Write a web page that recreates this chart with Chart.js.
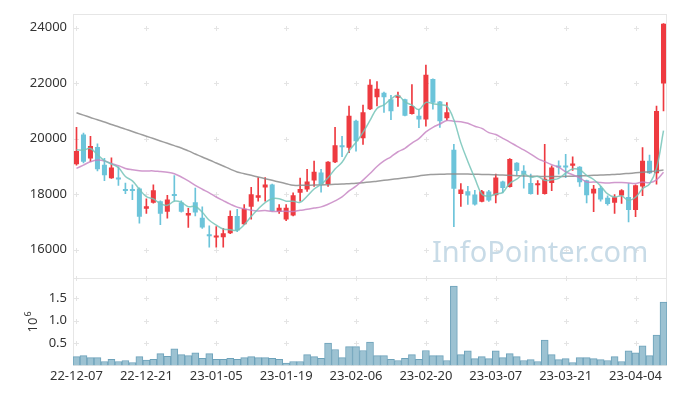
<!DOCTYPE html>
<html>
<head>
<meta charset="utf-8">
<title>Candle chart</title>
<script src="https://cdn.jsdelivr.net/npm/chart.js@4.4.1/dist/chart.umd.min.js"></script>
<style>
    html, body { margin: 0; padding: 0; background: #fff; }
    #wrap { width: 677px; height: 396px; }
</style>
</head>
<body>
<div id="wrap"><canvas id="stockChart" width="677" height="396"></canvas></div>
<script>
// ===================================
// Data
// ===================================
const dates = [
    '22-12-07', '22-12-08', '22-12-09', '22-12-12', '22-12-13', '22-12-14', '22-12-15', '22-12-16',
    '22-12-19', '22-12-20', '22-12-21', '22-12-22', '22-12-23', '22-12-26', '22-12-27', '22-12-28',
    '22-12-29', '23-01-02', '23-01-03', '23-01-04', '23-01-05', '23-01-06', '23-01-09', '23-01-10',
    '23-01-11', '23-01-12', '23-01-13', '23-01-16', '23-01-17', '23-01-18', '23-01-19', '23-01-20',
    '23-01-25', '23-01-26', '23-01-27', '23-01-30', '23-01-31', '23-02-01', '23-02-02', '23-02-03',
    '23-02-06', '23-02-07', '23-02-08', '23-02-09', '23-02-10', '23-02-13', '23-02-14', '23-02-15',
    '23-02-16', '23-02-17', '23-02-20', '23-02-21', '23-02-22', '23-02-23', '23-02-24', '23-02-27',
    '23-02-28', '23-03-02', '23-03-03', '23-03-06', '23-03-07', '23-03-08', '23-03-09', '23-03-10',
    '23-03-13', '23-03-14', '23-03-15', '23-03-16', '23-03-17', '23-03-20', '23-03-21', '23-03-22',
    '23-03-23', '23-03-24', '23-03-27', '23-03-28', '23-03-29', '23-03-30', '23-03-31', '23-04-03',
    '23-04-04', '23-04-05', '23-04-06', '23-04-07', '23-04-10'
];

const openPrices = [
    19080, 20150, 19290, 19700, 19060, 18580, 18560, 18150, 18150, 18210, 17480, 17690, 17750, 17370, 17960, 17700,
    17230, 17710, 17150, 16500, 16440, 16450, 16590, 17220, 16920, 17550, 17870, 18240, 18350, 17370, 17090, 17230,
    18050, 18170, 18490, 18780, 18370, 19150, 19710, 19670, 20650, 20020, 21060, 21490, 21660, 21420, 21480, 21420,
    20890, 20830, 20690, 22150, 21340, 20740, 19600, 18010, 18110, 17990, 17730, 18100, 17960, 18460, 18260, 19130,
    18850, 18400, 18320, 18010, 18400, 18980, 18980, 19030, 18990, 18500, 18030, 18220, 17870, 17690, 17950, 17900,
    17430, 18280, 19210, 18760, 21990
];
const highPrices = [
    20410, 20200, 20090, 19820, 19290, 19310, 18990, 18400, 18340, 18230, 17830, 18340, 17760, 17960, 18670, 17760,
    17490, 18220, 17550, 16860, 16830, 16770, 17400, 17460, 17630, 18250, 18600, 18600, 18370, 17630, 17630, 18050,
    18580, 18900, 19190, 18900, 19180, 20410, 20090, 21180, 20670, 21210, 22130, 22060, 21680, 21560, 21680, 21430,
    21950, 21060, 22650, 22160, 21350, 21300, 19800, 18380, 18280, 18140, 18140, 18140, 18730, 18470, 19280, 19140,
    19030, 18730, 18490, 19800, 19020, 19200, 19440, 19350, 19000, 18510, 18320, 18280, 17940, 17990, 18170, 18380,
    18340, 19680, 19410, 21180, 24150
];
const lowPrices = [
    19050, 19130, 19170, 18840, 18490, 18570, 18320, 18020, 17800, 16960, 17310, 17680, 16900, 17140, 17770, 17350,
    16800, 17220, 16770, 16090, 16090, 16090, 16580, 16650, 16900, 17100, 17750, 17750, 17390, 17310, 17050, 17220,
    17750, 18100, 18280, 18070, 18280, 19140, 19350, 19500, 19550, 19790, 21050, 21180, 20950, 20690, 21160, 20820,
    20880, 20400, 20450, 21060, 20410, 20670, 16830, 17560, 17630, 17610, 17720, 17740, 17690, 18050, 18250, 18700,
    18220, 18000, 17990, 18000, 18130, 18720, 18600, 18860, 18280, 17690, 17370, 17750, 17610, 17310, 17670, 17000,
    17190, 17950, 18740, 18360, 21000
];
const closePrices = [
    19560, 19170, 19740, 18900, 18680, 18960, 18530, 18120, 18120, 17190, 17570, 18140, 17300, 17810, 17940, 17370,
    17320, 17340, 16800, 16490, 16510, 16590, 17220, 16690, 17480, 18000, 17960, 18350, 17400, 17510, 17510, 17960,
    18190, 18460, 18810, 18340, 19170, 19760, 19690, 20830, 19910, 20950, 21940, 21800, 21490, 20990, 21560, 20830,
    21180, 20690, 22300, 21300, 20630, 20950, 18200, 18170, 17950, 17630, 18110, 17770, 18600, 18220, 19270, 18840,
    18730, 18010, 18340, 18560, 18960, 18960, 18960, 19110, 18430, 17960, 18200, 17810, 17650, 17890, 18140, 17430,
    18320, 19210, 18760, 21000, 24140
];

const volumes = [
    196000, 217000, 174000, 174000, 87000, 138000, 87000, 109000, 65000, 196000, 116000, 138000, 261000, 203000, 370000, 239000,
    217000, 283000, 159000, 261000, 138000, 138000, 159000, 138000, 174000, 196000, 174000, 174000, 159000, 138000, 51000, 87000,
    87000, 239000, 196000, 159000, 500000, 355000, 174000, 420000, 420000, 333000, 522000, 217000, 217000, 138000, 109000, 159000,
    239000, 138000, 333000, 217000, 217000, 109000, 1768000, 239000, 326000, 152000, 196000, 152000, 326000, 174000, 261000, 196000,
    109000, 130000, 87000, 565000, 239000, 130000, 152000, 65000, 174000, 174000, 152000, 130000, 109000, 196000, 87000, 326000,
    283000, 435000, 217000, 674000, 1413000
];

// moving averages as drawn in the reference
const ma5 = [
    19600, 19590, 19650, 19420, 19210, 19090, 18960, 18640, 18480, 18180, 17910, 17830, 17660, 17600, 17750, 17710,
    17550, 17560, 17350, 17060, 16890, 16750, 16720, 16700, 16900, 17200, 17470, 17700, 17840, 17840, 17750, 17750,
    17710, 17930, 18190, 18350, 18590, 18910, 19150, 19560, 19870, 20230, 20660, 21090, 21220, 21430, 21560, 21330,
    21210, 21050, 21310, 21260, 21220, 21170, 20680, 19850, 19180, 18580, 18010, 17930, 18010, 18070, 18390, 18540,
    18730, 18610, 18640, 18500, 18520, 18570, 18760, 18910, 18880, 18680, 18530, 18300, 18010, 17900, 17940, 17780,
    17890, 18200, 18370, 18940, 20290
];
const ma20 = [
    18930, 19050, 19170, 19230, 19200, 19110, 19030, 18930, 18880, 18850, 18840, 18840, 18815, 18790, 18740, 18620,
    18480, 18320, 18180, 18050, 17900, 17770, 17645, 17535, 17475, 17425, 17400, 17410, 17375, 17390, 17385, 17380,
    17420, 17455, 17500, 17545, 17640, 17760, 17905, 18120, 18290, 18510, 18745, 19000, 19200, 19350, 19530, 19655,
    19845, 20005, 20245, 20410, 20530, 20655, 20625, 20615, 20555, 20450, 20370, 20220, 20150, 20015, 19880, 19735,
    19595, 19445, 19285, 19175, 19060, 18975, 18810, 18700, 18590, 18440, 18440, 18420, 18405, 18420, 18420, 18405,
    18390, 18440, 18415, 18520, 18790
];
const ma60 = [
    20935, 20850, 20765, 20680, 20600, 20510, 20430, 20345, 20260, 20175, 20090, 20005, 19920, 19835, 19750, 19665,
    19560, 19450, 19340, 19235, 19125, 19015, 18905, 18800, 18740, 18680, 18620, 18560, 18500, 18440, 18380, 18320,
    18320, 18325, 18330, 18335, 18345, 18355, 18365, 18380, 18395, 18415, 18440, 18470, 18500, 18530, 18560, 18590,
    18620, 18660, 18695, 18710, 18720, 18725, 18730, 18730, 18725, 18720, 18715, 18710, 18700, 18690, 18680, 18670,
    18660, 18650, 18645, 18640, 18640, 18640, 18645, 18650, 18660, 18670, 18680, 18690, 18700, 18715, 18730, 18750,
    18770, 18790, 18810, 18840, 18870
];

const priceTicks = [16000, 18000, 20000, 22000, 24000];
const volumeTicks = [500000, 1000000, 1500000];
const labelEvery = 10;

// ===================================
// Styles
// ===================================
const FONT = '"Noto Sans", "Open Sans", sans-serif';
const UP_COLOR = '#ee3a40';
const DOWN_COLOR = '#6cc4da';
const candleColors = closePrices.map((c, i) => c >= openPrices[i] ? UP_COLOR : DOWN_COLOR);

// Grid crosses, panel borders, watermark and the 10^6 label
const panelDecor = {
    id: 'panelDecor',
    beforeDatasetsDraw(chart) {
        const { ctx, chartArea, scales } = chart;
        const x = scales.x, y = scales.y, yv = scales.yv;
        const left = Math.round(chartArea.left) + 0.5;
        const right = Math.round(chartArea.right) - 0.5;

        ctx.save();
        ctx.strokeStyle = '#e6e6e6';
        ctx.lineWidth = 1;
        [y, yv].forEach(s => {
            const top = Math.round(s.top) + 0.5;
            const bottom = Math.round(s.bottom) + 0.5;
            ctx.strokeRect(left, top, right - left, bottom - top);
        });

        // little "+" marks where ticks meet
        ctx.strokeStyle = '#e4e4e4';
        const rows = priceTicks.map(v => y.getPixelForValue(v))
            .concat(volumeTicks.map(v => yv.getPixelForValue(v)))
            .concat([y.bottom]);
        dates.forEach((d, i) => {
            if (i % labelEvery !== 0) return;
            const px = Math.round(x.getPixelForValue(i)) + 0.5;
            rows.forEach(py => {
                py = Math.round(py) + 0.5;
                ctx.beginPath();
                ctx.moveTo(px - 2.5, py); ctx.lineTo(px + 2.5, py);
                ctx.moveTo(px, py - 2.5); ctx.lineTo(px, py + 2.5);
                ctx.stroke();
            });
        });

        // watermark
        ctx.fillStyle = '#c8dbe7';
        ctx.font = '29px ' + FONT;
        ctx.textAlign = 'left';
        ctx.textBaseline = 'alphabetic';
        ctx.fillText('InfoPointer.com', chartArea.right - 235, y.bottom - 16);

        // volume unit
        ctx.fillStyle = '#333';
        ctx.translate(37, (yv.top + yv.bottom) / 2 + 11);
        ctx.rotate(-Math.PI / 2);
        ctx.font = '13px ' + FONT;
        ctx.fillText('10', 0, 0);
        const w = ctx.measureText('10').width;
        ctx.font = '9px ' + FONT;
        ctx.fillText('6', w + 1, -6);
        ctx.restore();
    }
};

function fixWidth(scale) {
    scale.width = 73;
}

const tickFont = { family: FONT, size: 13 };
const noGrid = { display: false, drawTicks: false };

new Chart(document.getElementById('stockChart'), {
    type: 'bar',
    data: {
        labels: dates,
        datasets: [
            {
                type: 'line', label: 'MA5', data: ma5, yAxisID: 'y',
                borderColor: 'rgba(118,196,184,0.85)', borderWidth: 1.5,
                pointRadius: 0, tension: 0.4, order: 0
            },
            {
                type: 'line', label: 'MA20', data: ma20, yAxisID: 'y',
                borderColor: 'rgba(196,128,192,0.8)', borderWidth: 1.5,
                pointRadius: 0, tension: 0.4, order: 0
            },
            {
                type: 'line', label: 'MA60', data: ma60, yAxisID: 'y',
                borderColor: 'rgba(140,140,140,0.85)', borderWidth: 1.5,
                pointRadius: 0, tension: 0.4, order: 0
            },
            {
                label: 'Body', yAxisID: 'y', order: 1,
                data: dates.map((d, i) => [openPrices[i], closePrices[i]]),
                backgroundColor: candleColors,
                barPercentage: 0.72, categoryPercentage: 1,
                grouped: false, minBarLength: 2
            },
            {
                label: 'Wick', yAxisID: 'y', order: 2,
                data: dates.map((d, i) => [lowPrices[i], highPrices[i]]),
                backgroundColor: candleColors,
                barThickness: 1, grouped: false
            },
            {
                label: 'Volume', yAxisID: 'yv', order: 3,
                data: volumes,
                backgroundColor: '#9cc2d2',
                borderColor: '#6da2ba', borderWidth: 1,
                barPercentage: 1, categoryPercentage: 1, grouped: false
            }
        ]
    },
    options: {
        responsive: false,
        animation: false,
        layout: { padding: { top: 10, right: 10, bottom: 9, left: 0 } },
        plugins: {
            legend: { display: false },
            tooltip: { enabled: false }
        },
        scales: {
            x: {
                type: 'category',
                offset: true,
                grid: noGrid,
                border: { display: false },
                ticks: {
                    autoSkip: false,
                    maxRotation: 0,
                    padding: 3,
                    color: '#333',
                    font: tickFont,
                    callback: function(value, index) {
                        return index % labelEvery === 0 ? this.getLabelForValue(value) : null;
                    }
                }
            },
            yv: {
                position: 'left',
                stack: 'panels',
                stackWeight: 1,
                min: 0,
                max: 1960000,
                grid: noGrid,
                border: { display: false },
                afterFit: fixWidth,
                afterBuildTicks: s => { s.ticks = volumeTicks.map(v => ({ value: v })); },
                ticks: {
                    padding: 6,
                    color: '#333',
                    font: tickFont,
                    callback: v => (v / 1000000).toFixed(1)
                }
            },
            y: {
                position: 'left',
                stack: 'panels',
                stackWeight: 3,
                min: 15000,
                max: 24500,
                grid: noGrid,
                border: { display: false },
                afterFit: fixWidth,
                afterBuildTicks: s => { s.ticks = priceTicks.map(v => ({ value: v })); },
                ticks: {
                    padding: 6,
                    color: '#333',
                    font: tickFont,
                    callback: v => String(v)
                }
            }
        }
    },
    plugins: [panelDecor]
});
</script>
</body>
</html>
